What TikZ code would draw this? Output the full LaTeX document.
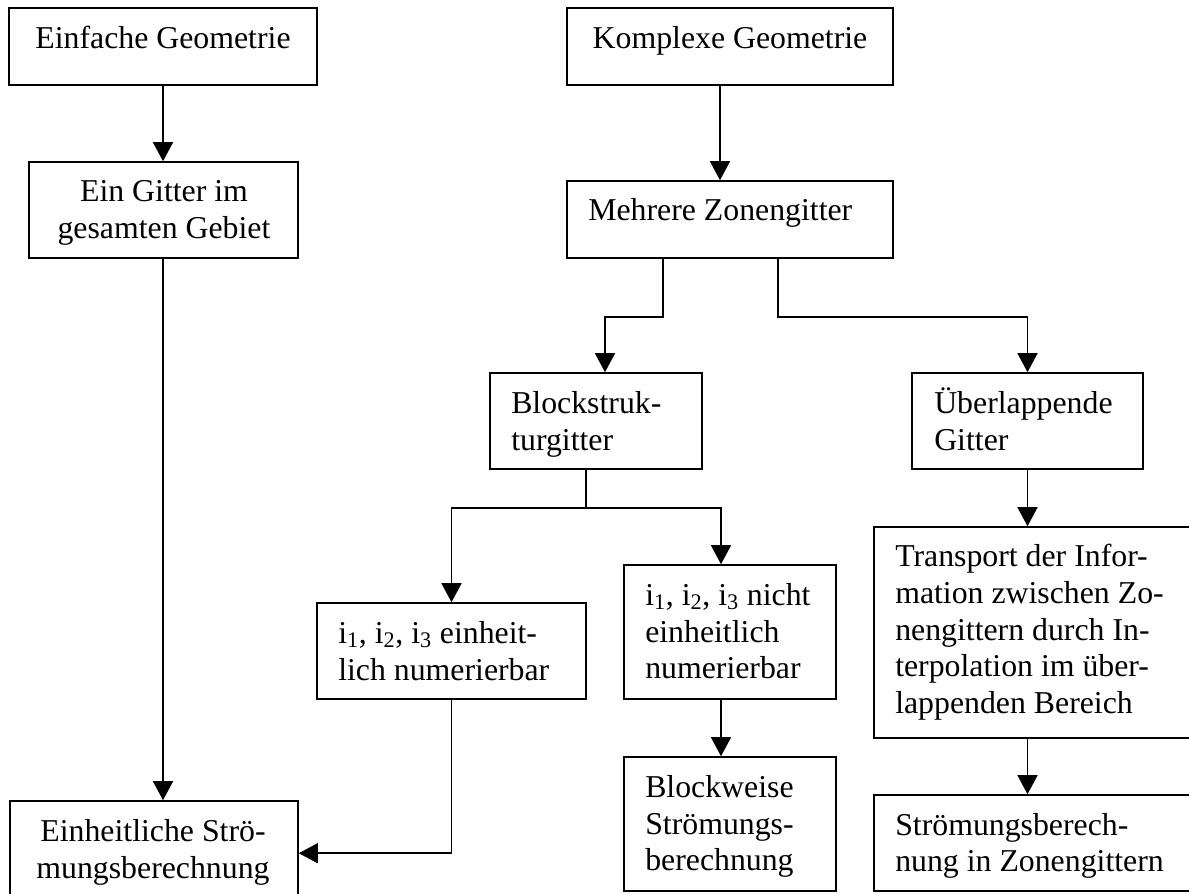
\documentclass[tikz,border=0pt]{standalone}
\usepackage{fontspec}
\setmainfont{Liberation Serif}
\usetikzlibrary{arrows.meta,fit,calc}
\begin{document}
\begin{tikzpicture}[x=0.75pt,y=-0.75pt,
  box/.style={draw=black, line width=1.2pt, inner sep=0pt},
  txt/.style={font=\fontsize{23.85pt}{27.5pt}\selectfont, inner sep=0pt, anchor=base west},
  ctxt/.style={txt, anchor=base},
  arr/.style={line width=1.15pt, -{Triangle[length=14.25pt,width=15pt]}}]
\useasboundingbox (0,0) rectangle (1189,893);
\clip (0,0) rectangle (1189,893);

% boxes
\node[box, fit={(9,8) (317,85)}] (b1) {};
\node[box, fit={(29,162) (298,258)}] (b2) {};
\node[box, fit={(567,8) (893,85)}] (b3) {};
\node[box, fit={(567,181) (893,258)}] (b4) {};
\node[box, fit={(490,373) (702,469)}] (b5) {};
\node[box, fit={(912,373) (1143,469)}] (b6) {};
\node[box, fit={(317,603) (586,699)}] (b7) {};
\node[box, fit={(624,565) (836,699)}] (b8) {};
\node[box, fit={(624,757) (836,891)}] (b9) {};
\node[box, fit={(874,527) (1195,738)}] (b10) {};
\node[box, fit={(10,801) (298,898)}] (b11) {};
\node[box, fit={(874,795) (1195,891)}] (b12) {};

% texts
\node[ctxt] (t1) at (163,48) {Einfache Geometrie};
\node[ctxt] (t2a) at (164,201) {Ein Gitter im};
\node[ctxt] (t2b) at (164,238) {gesamten Gebiet};
\node[ctxt] (t3) at (730,48) {Komplexe Geometrie};
\node[txt] (t4) at (588,220) {Mehrere Zonengitter};
\node[txt] (t5a) at (511,413) {Blockstruk-};
\node[txt] (t5b) at (511,450) {turgitter};
\node[txt] (t6a) at (934,413) {Überlappende};
\node[txt] (t6b) at (934,450) {Gitter};
\node[txt] (t7a) at (338,643) {i\textsubscript{1}, i\textsubscript{2}, i\textsubscript{3} einheit-};
\node[txt] (t7b) at (338,680) {lich numerierbar};
\node[txt] (t8a) at (645,605) {i\textsubscript{1}, i\textsubscript{2}, i\textsubscript{3} nicht};
\node[txt] (t8b) at (645,642) {einheitlich};
\node[txt] (t8c) at (645,678) {numerierbar};
\node[txt] (t9a) at (645,797) {Blockweise};
\node[txt] (t9b) at (645,834) {Strömungs-};
\node[txt] (t9c) at (645,870) {berechnung};
\node[txt] (t10a) at (895,566) {Transport der Infor-};
\node[txt] (t10b) at (895,603) {mation zwischen Zo-};
\node[txt] (t10c) at (895,640) {nengittern durch In-};
\node[txt] (t10d) at (895,676) {terpolation im über-};
\node[txt] (t10e) at (895,713) {lappenden Bereich};
\node[ctxt] (t11a) at (153,841) {Einheitliche Strö-};
\node[ctxt] (t11b) at (153,878) {mungsberechnung};
\node[txt] (t12a) at (895,835) {Strömungsberech-};
\node[txt] (t12b) at (895,871) {nung in Zonengittern};

% connectors
\draw[arr] (b1.south) -- (b1.south |- b2.north);
\draw[arr] (b2.south -| b1.south) -- (b1.south |- b11.north);
\draw[arr] ($(b3.south)+(-10,0)$) -- ($(b4.north)+(-10,0)$);
\draw[arr] ($(b4.south)+(-67,0)$) -- ++(0,58) -| ($(b5.north)+(9,0)$);
\draw[arr] ($(b4.south)+(48,0)$) -- ++(0,58) -| (b6.north);
\draw[arr] ($(b5.south)+(-10,0)$) -- ++(0,38) -| (b7.north);
\draw[arr] ($(b5.south)+(-10,0)$) -- ++(0,38) -| ($(b8.north)+(-9,0)$);
\draw[arr] (b7.south) |- ($(b11.north east)+(0,53)$);
\draw[arr] ($(b8.south)+(-9,0)$) -- ($(b9.north)+(-9,0)$);
\draw[arr] (b6.south) -- (b6.south |- b10.north);
\draw[arr] (b10.south -| b6.south) -- (b6.south |- b12.north);
\end{tikzpicture}
\end{document}
